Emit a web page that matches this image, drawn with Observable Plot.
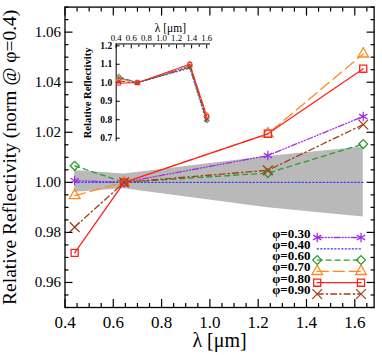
<!DOCTYPE html>
<html><head><meta charset="utf-8">
<script src="https://cdn.jsdelivr.net/npm/d3@7"></script>
<script src="https://cdn.jsdelivr.net/npm/@observablehq/plot@0.6"></script>
<style>
body{margin:0;background:#fff;}
#wrap{position:relative;width:382px;height:355px;overflow:hidden;}
#wrap svg{position:absolute;}
</style></head><body><div id="wrap"></div>
<script>
// ---------- data ----------
const wavelength = [0.44, 0.645, 1.24, 1.635];
const phaseLabels = ["φ=0.30","φ=0.40","φ=0.60","φ=0.70","φ=0.80","φ=0.90"];
const rel030 = [1.0007, 1.0000, 1.0107, 1.0263];
const rel040 = [1.0000, 1.0000, 1.0000, 1.0000];
const rel060 = [1.0066, 1.0000, 1.0037, 1.0153];
const rel070 = [0.9947, 1.0000, 1.0194, 1.0513];
const rel080 = [0.9718, 1.0000, 1.0194, 1.0454];
const rel090 = [0.9821, 1.0000, 1.0048, 1.0231];
const bandUpper = [1.0047, 1.0033, 1.0103, 1.0141];
const bandLower = [0.9960, 0.9974, 0.9898, 0.9862];

const insetWavelength = [0.434, 0.68, 1.376, 1.60];
const ins030 = [1.028, 1.000, 1.091, 0.804];
const ins040 = [1.027, 1.000, 1.079, 0.784];
const ins060 = [1.034, 1.000, 1.083, 0.796];
const ins070 = [1.022, 1.000, 1.100, 0.824];
const ins080 = [0.998, 1.000, 1.100, 0.819];
const ins090 = [1.009, 1.000, 1.085, 0.802];

const xMajor = [0.4, 0.6, 0.8, 1.0, 1.2, 1.4, 1.6];
const yMajor = [0.96, 0.98, 1.00, 1.02, 1.04, 1.06];
const insetXMajor = [0.4, 0.6, 0.8, 1.0, 1.2, 1.4, 1.6];
const insetYMajor = [0.7, 0.8, 0.9, 1.0, 1.1, 1.2];

// ---------- styles ----------
const colors = ["#a030e8", "#3a3aff", "#2f9a2f", "#ff8a1c", "#ff2020", "#a3401c"];
const dashes = ["6,2,1,2,1,2,1,2", "1.3,2.2", "5,4", "11,5", null, "6,3,1.5,3"];
const symbols = ["asterisk", null, "diamond2", "triangle", "square", "times"];
const mainSeries = [rel030, rel040, rel060, rel070, rel080, rel090];
const insetSeries = [ins030, ins040, ins060, ins070, ins080, ins090];

const FONT = "Liberation Serif";
const xMinor = d3.range(0.4, 1.6801, 0.05).map(v => +v.toFixed(3)).filter(v => !xMajor.some(m => Math.abs(m - v) < 1e-6));
const yMinor = d3.range(0.95, 1.0701, 0.005).map(v => +v.toFixed(4)).filter(v => !yMajor.some(m => Math.abs(m - v) < 1e-6));
const lineShape = {draw(ctx, l) { ctx.moveTo(0, 0); ctx.lineTo(0, -l); }};
const symR = s => (s === "asterisk" || s === "times") ? 4.5 : 4;

const marks = [];
// band
marks.push(Plot.areaY(wavelength, {x: wavelength, y1: bandLower, y2: bandUpper, fill: "#b9b9b9", curve: "linear"}));
// series
mainSeries.forEach((vals, i) => {
  marks.push(Plot.line(vals, {x: wavelength, y: vals, stroke: colors[i], strokeWidth: 1.3, strokeDasharray: dashes[i]}));
});
mainSeries.forEach((vals, i) => {
  if (symbols[i]) marks.push(Plot.dot(vals, {x: wavelength, y: vals, symbol: symbols[i], r: symR(symbols[i]), stroke: colors[i], strokeWidth: 1.3, fill: "none"}));
});
// legend
phaseLabels.forEach((lab, i) => {
  const dy = -70 + 11.3 * i;
  marks.push(Plot.text([lab], {frameAnchor: "bottom-right", dx: -63.6, dy, textAnchor: "end", fontSize: 13, fontWeight: "bold", fill: "black"}));
  marks.push(Plot.vector([0], {frameAnchor: "bottom-right", dx: -56.9, dy, rotate: 90, length: 43.8, anchor: "start", shape: lineShape, stroke: colors[i], strokeWidth: 1.3, strokeDasharray: dashes[i]}));
  if (symbols[i]) {
    for (const dx of [-56.9, -13.1]) {
      marks.push(Plot.dot([0], {frameAnchor: "bottom-right", dx, dy, symbol: symbols[i], r: symR(symbols[i]), stroke: colors[i], strokeWidth: 1.3, fill: "none"}));
    }
  }
});
// axes (inward ticks on all sides)
marks.push(Plot.axisX(xMajor, {anchor: "bottom", tickSize: -8, tickPadding: 16, fontSize: 17, tickFormat: d => d.toFixed(1), label: null, strokeWidth: 1.2}));
marks.push(Plot.axisX(xMinor, {anchor: "bottom", tickSize: -4, tickFormat: () => "", label: null, strokeWidth: 1.2}));
marks.push(Plot.axisX(xMajor, {anchor: "top", tickSize: -8, tickFormat: () => "", label: null, strokeWidth: 1.2}));
marks.push(Plot.axisX(xMinor, {anchor: "top", tickSize: -4, tickFormat: () => "", label: null, strokeWidth: 1.2}));
marks.push(Plot.axisY(yMajor, {anchor: "left", tickSize: -8, tickPadding: 12, fontSize: 15, tickFormat: d => d.toFixed(2), label: null, strokeWidth: 1.2}));
marks.push(Plot.axisY(yMinor, {anchor: "left", tickSize: -4, tickFormat: () => "", label: null, strokeWidth: 1.2}));
marks.push(Plot.axisY(yMajor, {anchor: "right", tickSize: -8, tickFormat: () => "", label: null, strokeWidth: 1.2}));
marks.push(Plot.axisY(yMinor, {anchor: "right", tickSize: -4, tickFormat: () => "", label: null, strokeWidth: 1.2}));
marks.push(Plot.frame({stroke: "black", strokeWidth: 1.3}));
marks.push(Plot.text(["Relative Reflectivity (norm @ φ=0.4)"], {frameAnchor: "left", textAnchor: "middle", rotate: -90, dx: -55, fontSize: 19.5, fill: "black"}));
marks.push(Plot.text(["λ [μm]"], {frameAnchor: "bottom", dy: 39, fontSize: 20, fill: "black"}));

const main = Plot.plot({
  width: 382, height: 355,
  marginLeft: 64.5, marginRight: 8.4, marginTop: 6.6, marginBottom: 48,
  x: {domain: [0.4, 1.68]},
  y: {domain: [0.95, 1.07]},
  style: {fontFamily: FONT, background: "transparent", color: "black"},
  marks
});
main.style.left = "0px"; main.style.top = "0px";
document.getElementById("wrap").appendChild(main);

// ---------- inset ----------
const im = [];
im.push(Plot.ruleX([0.4], {stroke: "black", strokeWidth: 1}));
im.push(Plot.ruleY([1.21], {stroke: "black", strokeWidth: 1}));
const insetXMinor = d3.range(0.5, 1.65, 0.2).map(v => +v.toFixed(2));
im.push(Plot.axisX(insetXMajor, {anchor: "top", tickSize: -4, tickPadding: 7, fontSize: 8.8, tickFormat: d => d.toFixed(1), label: null}));
im.push(Plot.axisX(insetXMinor, {anchor: "top", tickSize: -2.5, tickFormat: () => "", label: null}));
im.push(Plot.axisY(insetYMajor, {anchor: "left", tickSize: -4, tickPadding: 8, fontSize: 9.5, fontWeight: "bold", tickFormat: d => d.toFixed(1), label: null}));
insetSeries.forEach((vals, i) => {
  im.push(Plot.line(vals, {x: insetWavelength, y: vals, stroke: colors[i], strokeWidth: 1, strokeDasharray: dashes[i]}));
});
insetSeries.forEach((vals, i) => {
  if (symbols[i]) im.push(Plot.dot(vals, {x: insetWavelength, y: vals, symbol: symbols[i], r: 2.2, stroke: colors[i], strokeWidth: 1, fill: "none"}));
});
im.push(Plot.text(["Relative Reflectivity"], {frameAnchor: "left", textAnchor: "middle", rotate: -90, dx: -28.7, fontSize: 10.5, fontWeight: "bold", fill: "black"}));
im.push(Plot.text(["λ [μm]"], {frameAnchor: "top", dx: 7, dy: -20.5, fontSize: 11.5, fill: "black"}));

const inset = Plot.plot({
  width: 150, height: 135,
  marginLeft: 40.7, marginRight: 15, marginTop: 31.45, marginBottom: 5.6,
  x: {domain: [0.4, 1.65]},
  y: {domain: [0.68, 1.21]},
  style: {fontFamily: FONT, background: "transparent", color: "black"},
  marks: im
});
inset.style.left = "75px"; inset.style.top = "12px";
document.getElementById("wrap").appendChild(inset);
</script>
</body></html>
